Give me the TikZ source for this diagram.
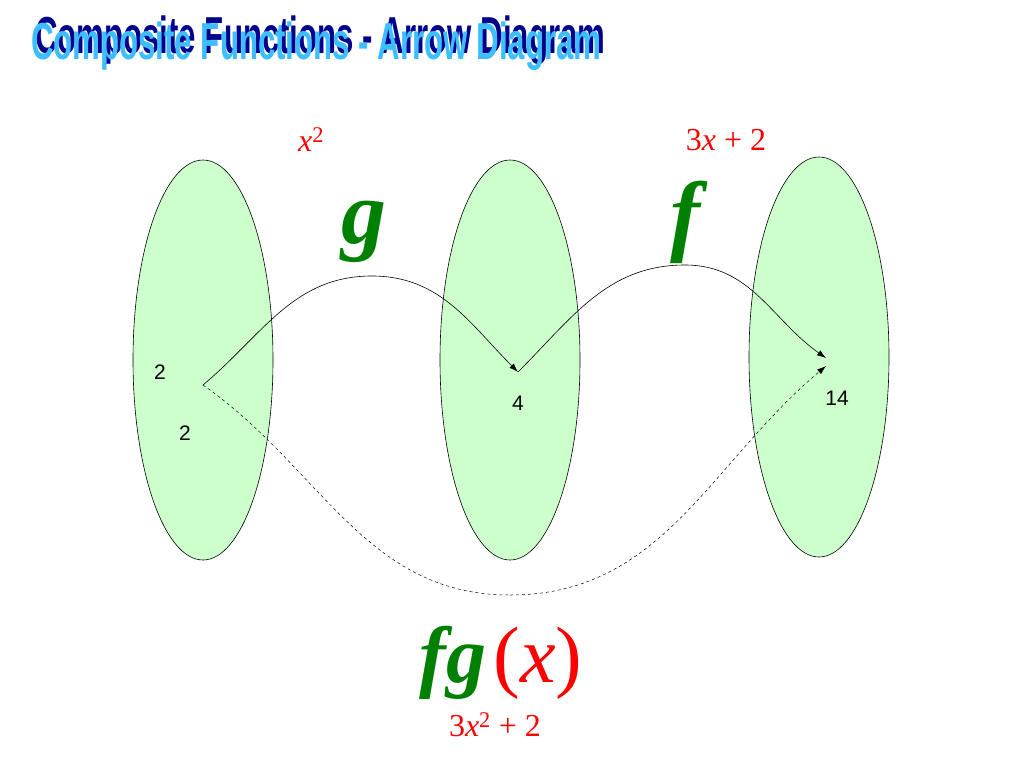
\documentclass[tikz,border=0pt]{standalone}
\usepackage{fontspec}
\setmainfont{Liberation Serif}
\newfontfamily\sansf{Liberation Sans}
\usetikzlibrary{arrows.meta,shapes.geometric}
\definecolor{egg}{RGB}{204,255,204}
\definecolor{fgreen}{RGB}{0,128,0}
\definecolor{tblue}{RGB}{60,190,255}
\definecolor{tdark}{RGB}{0,0,140}
\begin{document}
\begin{tikzpicture}[x=1pt,y=-1pt,
  blob/.style={draw=black,fill=egg,ellipse,minimum width=140pt,minimum height=400pt,line width=0.6pt},
  num/.style={font=\sansf\fontsize{21}{21}\selectfont},
  red/.style={text=red,font=\fontsize{32}{32}\selectfont\itshape},
  fn/.style={text=fgreen,font=\fontsize{90}{90}\selectfont\itshape\bfseries},
  ttl/.style={font=\sansf\bfseries\fontsize{52}{52}\selectfont,xscale=0.6,anchor=west},
  conn/.style={line width=0.6pt,-{Latex[length=9pt,width=6pt]}}]
\useasboundingbox (0,0) rectangle (1024,768);
\node[blob] (A) at (203,360) {};
\node[blob] (B) at (510,360) {};
\node[blob] (C) at (819,357) {};
\node[ttl,text=tdark] at (33,40) {Composite Functions - Arrow Diagram};
\node[ttl,text=tblue] (title) at (29,46) {Composite Functions - Arrow Diagram};
\coordinate (p) at (203,385);
\coordinate (q) at (518,372);
\coordinate (r) at (826,358);
\coordinate (r2) at (826,366);
\coordinate (gp) at (372,276);
\coordinate (fp) at (685,265);
\coordinate (dp) at (510,595);
\draw[conn] (p) to[out=40,in=180] (gp) to[out=0,in=135] (q);
\draw[line width=0.6pt] (q) to[out=45,in=180] (fp);
\draw[conn] (fp) to[out=0,in=145] (r);
\draw[dashed,line width=0.5pt] (p) to[out=-35,in=180] (dp);
\draw[dashed,line width=0.5pt,-{Latex[length=9pt,width=6pt]}] (dp) to[out=0,in=-140] (r2);
\node[num] (n1) at (160,372) {2};
\node[num] (n2) at (185,433) {2};
\node[num] (n3) at (518,403) {4};
\node[num] (n4) at (837,398) {14};
\node[red] (l1) at (311,140) {x\textsuperscript{\upshape 2}};
\node[text=red,font=\fontsize{32}{32}\selectfont] (l2) at (726,140) {3\textit{x} + 2};
\node[fn] (g) at (364,232) {g};
\node[fn] (f) at (685,222) {f};
\node[text=fgreen,font=\fontsize{80}{80}\selectfont\itshape\bfseries,anchor=east] (fg) at (490,663) {fg};
\node[text=red,font=\fontsize{80}{80}\selectfont,anchor=west] (x) at (490,663) {(\textit{x})};
\node[text=red,font=\fontsize{32}{32}\selectfont] (l3) at (495,725) {3\textit{x}\textsuperscript{2} + 2};
\end{tikzpicture}
\end{document}
